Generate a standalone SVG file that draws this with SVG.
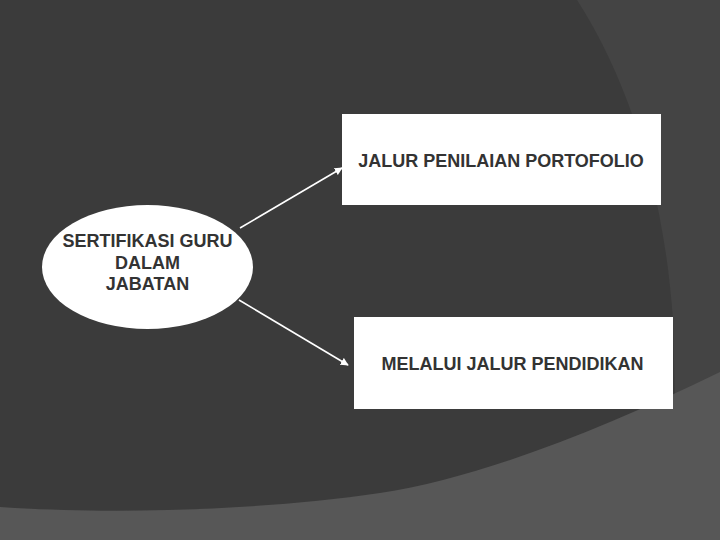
<svg xmlns="http://www.w3.org/2000/svg" width="720" height="540" viewBox="0 0 720 540">
  <defs>
    <style>
      .lbl { font-family: "Liberation Sans", Arial, sans-serif; font-size: 18px; font-weight: bold; fill: #333333; text-anchor: middle; }
      .box { fill: #ffffff; }
      .conn { stroke: #ffffff; stroke-width: 1.6; fill: none; marker-end: url(#arrow); }
    </style>
    <marker id="arrow" viewBox="0 0 10 10" refX="9" refY="5" markerWidth="5" markerHeight="5" orient="auto" markerUnits="strokeWidth">
      <path d="M0,0 L10,5 L0,10 Z" fill="#ffffff"/>
    </marker>
  </defs>

  <!-- background -->
  <rect x="0" y="0" width="720" height="540" fill="#3b3b3b"/>
  <path d="M577,0 C617,62 662,165 673,320 L675,400 L720,400 L720,0 Z" fill="#444444"/>
  <path d="M0,507 C100,514 250,512 380,493 C480,478 600,430 720,372 L720,540 L0,540 Z" fill="#575757"/>

  <g id="connectors">
    <line class="conn" x1="240" y1="228" x2="342" y2="168"/>
    <line class="conn" x1="239" y1="300" x2="348" y2="365"/>
  </g>

  <g id="node-sertifikasi">
    <ellipse cx="147.5" cy="267" rx="105.5" ry="62" fill="#ffffff"/>
    <text class="lbl" x="147.5" y="246.5">SERTIFIKASI GURU</text>
    <text class="lbl" x="147.5" y="268.5">DALAM</text>
    <text class="lbl" x="147.5" y="290">JABATAN</text>
  </g>

  <g id="node-portofolio">
    <rect class="box" x="342" y="114" width="319" height="91"/>
    <text class="lbl" x="501" y="166.5">JALUR PENILAIAN PORTOFOLIO</text>
  </g>

  <g id="node-pendidikan">
    <rect class="box" x="354" y="317" width="319" height="92"/>
    <text class="lbl" x="512.5" y="369.5">MELALUI JALUR PENDIDIKAN</text>
  </g>
</svg>
